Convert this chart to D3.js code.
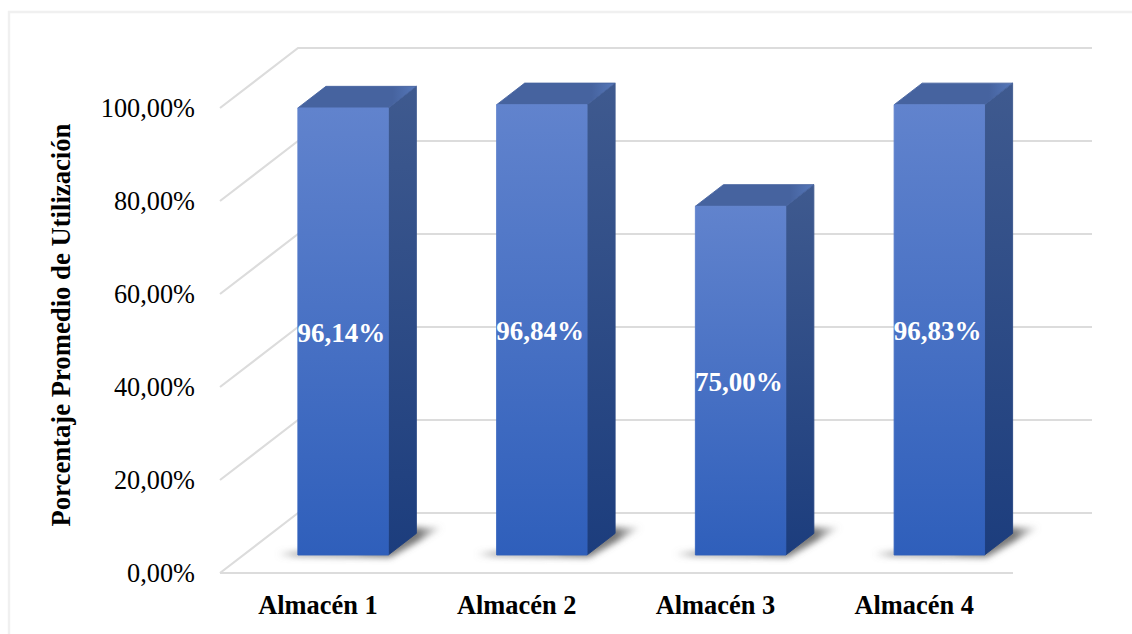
<!DOCTYPE html>
<html lang="es">
<head>
<meta charset="utf-8">
<script src="https://cdn.jsdelivr.net/npm/d3@7"></script>
<style>
  html, body { margin: 0; padding: 0; background: #fff; }
  svg { display: block; }
  text { font-family: "Liberation Serif", serif; fill: #000; }
</style>
</head>
<body>
<svg id="chart" width="1132" height="634"></svg>
<script>
// Utilisation per warehouse
const categories = ["Almacén 1", "Almacén 2", "Almacén 3", "Almacén 4"];
const utilisation = [96.14, 96.84, 75.00, 96.83];
const valueLabels = ["96,14%", "96,84%", "75,00%", "96,83%"];
const tickValues = [0, 20, 40, 60, 80, 100];
const tickLabels = ["0,00%", "20,00%", "40,00%", "60,00%", "80,00%", "100,00%"];
const axisTitle = "Porcentaje Promedio de Utilización";

const svg = d3.select("#chart");

// Oblique projection: depth 0 is the front of the floor, depth 1 the back wall
const plot = { left: 220, right: 1014, floor: 573, top: 108, dx: 78, dy: -60 };
const xBand = d3.scaleBand().domain(categories).range([plot.left + 0.3, plot.right + 1.3]).paddingInner(0.545).paddingOuter(0.2725);
const yVal = d3.scaleLinear().domain([0, 100]).range([plot.floor, plot.top]);
const project = (x, v, depth) => [x + plot.dx * depth, yVal(v) + plot.dy * depth];
const barNear = 0.3, barFar = 0.66;
const pathOf = pts => "M" + pts.map(p => p.join(",")).join("L") + "Z";

const defs = svg.append("defs");
function vGradient(id, top, bottom) {
  const g = defs.append("linearGradient").attr("id", id).attr("x1", 0).attr("y1", 0).attr("x2", 0).attr("y2", 1);
  g.append("stop").attr("offset", 0).attr("stop-color", top);
  g.append("stop").attr("offset", 1).attr("stop-color", bottom);
}
vGradient("frontFill", "#6183cd", "#2f5fbb");
vGradient("sideFill", "#3f5a8f", "#1c3d7d");
const topGrad = defs.append("linearGradient").attr("id", "topFill").attr("x1", 0).attr("y1", 0).attr("x2", 1).attr("y2", 0);
[[0, "#46639f"], [0.8, "#46639f"], [1, "#5678ba"]].forEach(([o, c]) => topGrad.append("stop").attr("offset", o).attr("stop-color", c));
defs.append("filter").attr("id", "floorBlur").attr("x", "-30%").attr("y", "-50%").attr("width", "160%").attr("height", "200%")
  .append("feGaussianBlur").attr("stdDeviation", 3.4);
const shadeGrad = defs.append("linearGradient").attr("id", "shadowFill").attr("x1", 0).attr("y1", 0).attr("x2", 1).attr("y2", 0);
[[0, "#888", 0], [0.12, "#777", 0.75], [0.85, "#666", 0.9], [1, "#888", 0.1]].forEach(([o, c, a]) =>
  shadeGrad.append("stop").attr("offset", o).attr("stop-color", c).attr("stop-opacity", a));

// Page frame, open on the right and the bottom
svg.append("path").attr("d", "M9,634V12H1132").attr("fill", "none").attr("stroke", "#f0f0f0").attr("stroke-width", 2.4);

// Gridlines along the back wall and their diagonals down the left wall
const grid = svg.append("g").attr("fill", "none").attr("stroke", "#dcdcdc").attr("stroke-width", 2.2);
grid.selectAll("path.wall").data(tickValues).join("path").attr("class", "wall")
  .attr("d", v => d3.line()([project(plot.left, v, 0), project(plot.left, v, 1), project(plot.right, v, 1)]));
grid.append("path").attr("d", d3.line()([project(plot.left, 0, 0), project(plot.right - 1, 0, 0)]));

// One extruded column per warehouse
const bars = svg.append("g").selectAll("g").data(categories.map((c, i) => ({ c, v: utilisation[i], label: valueLabels[i] }))).join("g");

// Soft shadow cast across the floor
bars.append("path")
  .attr("d", d => {
    const x0 = xBand(d.c), w = xBand.bandwidth();
    const nearY = project(x0, 0, barNear)[1], farY = project(x0, 0, barFar)[1];
    return pathOf([
      [project(x0 - 20, 0, barNear)[0], nearY + 1],
      [project(x0 + w, 0, barNear)[0] + 2, nearY + 2.5],
      [project(x0 + w + 26, 0, barFar)[0], farY - 6],
      [project(x0 + w - 4, 0, barFar)[0], farY - 6],
      [project(x0 + w - 30, 0, barNear)[0], nearY - 3],
      [project(x0 - 20, 0, barNear)[0], nearY - 3]
    ]);
  })
  .attr("fill", "url(#shadowFill)").attr("filter", "url(#floorBlur)");

const edge = sel => sel.attr("stroke-width", 0.9).attr("stroke-linejoin", "round");

bars.append("path").attr("fill", "url(#sideFill)").attr("stroke", "url(#sideFill)").call(edge).attr("d", d => {
  const x1 = xBand(d.c) + xBand.bandwidth();
  return pathOf([project(x1, 0, barNear), project(x1, 0, barFar), project(x1, d.v, barFar), project(x1, d.v, barNear)]);
});
bars.append("path").attr("fill", "url(#topFill)").attr("stroke", "#46639f").call(edge).attr("d", d => {
  const x0 = xBand(d.c), x1 = x0 + xBand.bandwidth();
  return pathOf([project(x0, d.v, barNear), project(x0, d.v, barFar), project(x1, d.v, barFar), project(x1, d.v, barNear)]);
});
bars.append("path").attr("fill", "url(#frontFill)").attr("stroke", "url(#frontFill)").call(edge).attr("d", d => {
  const x0 = xBand(d.c), x1 = x0 + xBand.bandwidth();
  return pathOf([project(x0, 0, barNear), project(x0, d.v, barNear), project(x1, d.v, barNear), project(x1, 0, barNear)]);
});

// Value printed on the front face of each column
bars.append("text")
  .attr("x", d => project(xBand(d.c) + xBand.bandwidth() / 2, 0, barNear)[0] - 1.8)
  .attr("y", d => (project(0, 0, barNear)[1] + project(0, d.v, barNear)[1]) / 2 + 10.5)
  .attr("text-anchor", "middle").attr("font-size", 27).attr("font-weight", "bold")
  .style("fill", "#fff").text(d => d.label);

// Value axis
svg.append("g").selectAll("text").data(tickValues).join("text")
  .attr("x", 195).attr("y", v => yVal(v) + 8.5)
  .attr("text-anchor", "end").attr("font-size", 26.3)
  .text((v, i) => tickLabels[i]);

// Category axis
svg.append("g").selectAll("text").data(categories).join("text")
  .attr("x", c => xBand(c) + xBand.bandwidth() / 2 - 1.8).attr("y", 614)
  .attr("text-anchor", "middle").attr("font-size", 26.4).attr("font-weight", "bold")
  .text(c => c);

svg.append("text")
  .attr("transform", "translate(70,325) rotate(-90)")
  .attr("text-anchor", "middle").attr("font-size", 26.7).attr("font-weight", "bold")
  .text(axisTitle);
</script>
</body>
</html>
